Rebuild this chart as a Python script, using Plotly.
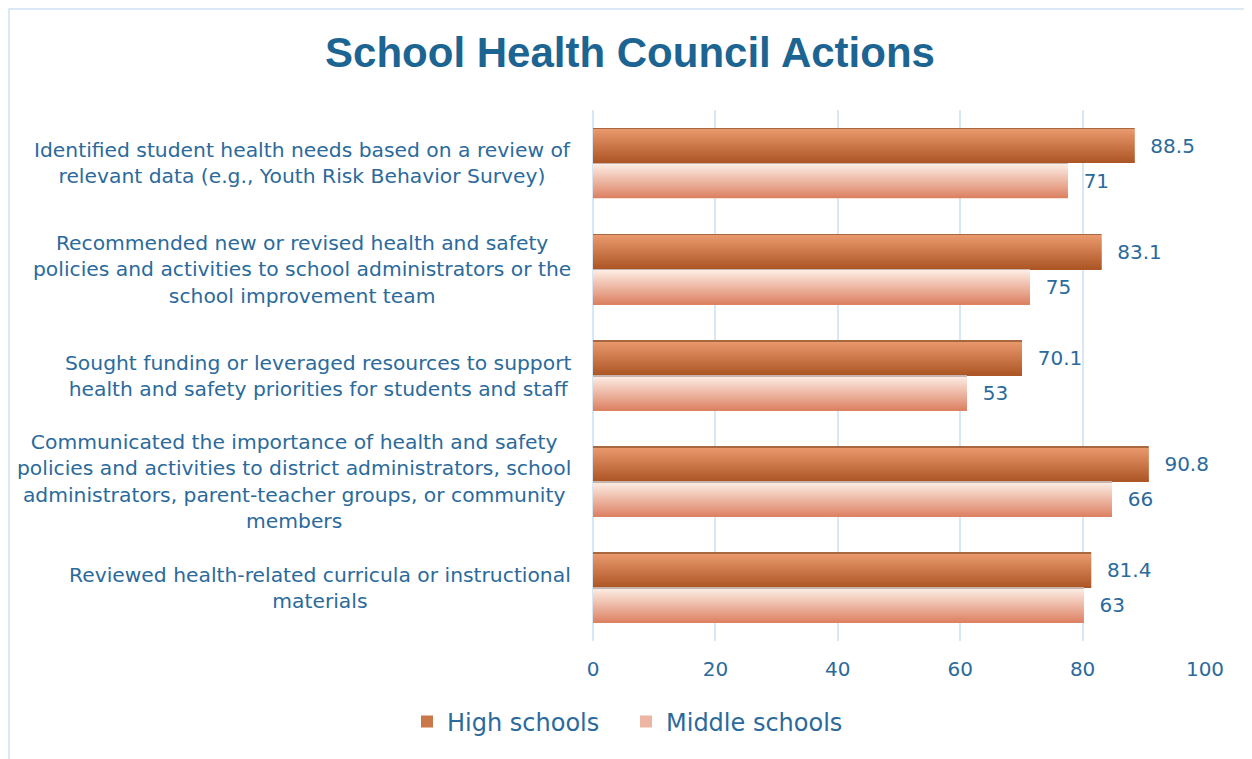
import plotly.graph_objects as go

# Data
categories = [
    "Identified student health needs based on a review of<br>relevant data (e.g., Youth Risk Behavior Survey)",
    "Recommended new or revised health and safety<br>policies and activities to school administrators or the<br>school improvement team",
    "Sought funding or leveraged resources to support<br>health and safety priorities for students and staff",
    "Communicated the importance of health and safety<br>policies and activities to district administrators, school<br>administrators, parent-teacher groups, or community<br>members",
    "Reviewed health-related curricula or instructional<br>materials",
]
high_values = [88.5, 83.1, 70.1, 90.8, 81.4]
high_labels = ["88.5", "83.1", "70.1", "90.8", "81.4"]
middle_values = [77.6, 71.4, 61.1, 84.8, 80.2]   # bar lengths as drawn
middle_labels = ["71", "75", "53", "66", "63"]    # labels as printed
x_ticks = [0, 20, 40, 60, 80, 100]

TEXT = "#2b6a9b"
GRID = "#d7e7f5"
FONT = "DejaVu Sans"
BAR_W = 0.33
N_STRIPS = 30


def mix(c1, c2, t):
    a = [int(c1[i:i + 2], 16) for i in (1, 3, 5)]
    b = [int(c2[i:i + 2], 16) for i in (1, 3, 5)]
    return "rgb(%d,%d,%d)" % tuple(round(a[k] + (b[k] - a[k]) * t) for k in range(3))


fig = go.Figure()

# gradient bars built from thin strips (top -> bottom colours)
series = [
    ("High schools", high_values, -BAR_W, "#ea9a6e", "#ad5626", "#a8683f"),
    ("Middle schools", middle_values, 0.0, "#fdeee6", "#dd8263", "#c8b4ae"),
]
for name, vals, base, c_top, c_bot, c_edge in series:
    h = BAR_W / N_STRIPS
    for i in range(N_STRIPS):
        t = i / (N_STRIPS - 1)
        w = h if i == N_STRIPS - 1 else h * 1.8
        fig.add_trace(go.Bar(
            y=categories, x=vals, orientation="h",
            offset=base + i * h, width=w,
            marker=dict(color=mix(c_top, c_bot, t), line=dict(width=0)),
            name=name, legendgroup=name,
            showlegend=(i == N_STRIPS // 2),
            hoverinfo="skip",
        ))
    # thin darker top edge
    fig.add_trace(go.Bar(
        y=categories, x=vals, orientation="h",
        offset=base, width=h * 0.6,
        marker=dict(color=c_edge, line=dict(width=0)),
        showlegend=False, hoverinfo="skip",
    ))

# data labels
for vals, labels, base in [(high_values, high_labels, -BAR_W),
                           (middle_values, middle_labels, 0.0)]:
    fig.add_trace(go.Bar(
        y=categories, x=vals, orientation="h",
        offset=base, width=BAR_W,
        marker=dict(color="rgba(0,0,0,0)", line=dict(width=0)),
        text=["  " + s for s in labels], textposition="outside",
        textfont=dict(size=20, color=TEXT, family=FONT),
        cliponaxis=False, showlegend=False, hoverinfo="skip",
    ))

# category labels, centred lines
for c in categories:
    fig.add_annotation(
        x=0, xref="paper", y=c, yref="y", xanchor="right", xshift=-20,
        text=c, align="center", showarrow=False,
        font=dict(size=20.3, color=TEXT, family=FONT),
    )

# thin frame like the original slide box
fig.add_shape(type="rect", xref="paper", yref="paper",
              x0=-584 / 612, x1=1.2, y0=-0.4, y1=1 + 101 / 531,
              line=dict(color="#cfe2f3", width=1.5), layer="below")

fig.update_layout(
    width=1252, height=759,
    margin=dict(l=585, r=55, t=102, b=126),
    paper_bgcolor="white", plot_bgcolor="white",
    barmode="overlay",
    title=dict(text="<b>School Health Council Actions</b>", x=(630 - 8) / 1252,
               xanchor="center", y=1 - 44 / 759, yanchor="middle",
               font=dict(size=42, color="#1c6491", family="Liberation Sans")),
    xaxis=dict(range=[0, 100], tickvals=x_ticks, showgrid=True, gridcolor=GRID,
               gridwidth=2, zeroline=True, zerolinecolor=GRID, zerolinewidth=2,
               tickfont=dict(size=20, color=TEXT, family=FONT), ticks="",
               ticklabelstandoff=14, showline=False),
    yaxis=dict(autorange="reversed", showticklabels=False, showgrid=False,
               zeroline=False, ticks=""),
    legend=dict(orientation="h", x=(626 - 593) / 612, xanchor="center",
                y=-(722 - 641) / 531, yanchor="middle",
                font=dict(size=24, color=TEXT, family=FONT),
                itemwidth=30, tracegroupgap=0,
                entrywidth=174, entrywidthmode="pixels"),
    font=dict(family=FONT, color=TEXT),
)

fig.write_html("out.html")
